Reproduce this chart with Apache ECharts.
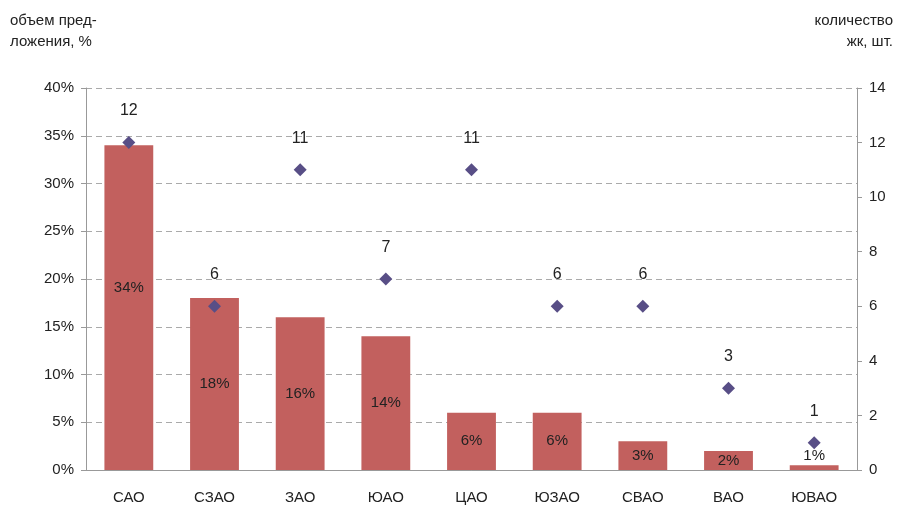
<!DOCTYPE html>
<html>
<head>
<meta charset="utf-8">
<script src="https://cdn.jsdelivr.net/npm/echarts@6/dist/echarts.min.js"></script>
<style>
html,body{margin:0;padding:0;background:#fff;}
#main{width:901px;height:513px;}
</style>
</head>
<body>
<div id="main"></div>
<script>
const categories = ["САО","СЗАО","ЗАО","ЮАО","ЦАО","ЮЗАО","СВАО","ВАО","ЮВАО"];
const shareValues = [34, 18, 16, 14, 6, 6, 3, 2, 0.5];
const shareLabels = ["34%","18%","16%","14%","6%","6%","3%","2%","1%"];
const countValues = [12, 6, 11, 7, 11, 6, 6, 3, 1];
const leftTicks = [0, 5, 10, 15, 20, 25, 30, 35, 40];
const rightTicks = [0, 2, 4, 6, 8, 10, 12, 14];

const font = "Liberation Sans, Arial, sans-serif";
const chart = echarts.init(document.getElementById('main'));
chart.setOption({
  animation: false,
  backgroundColor: '#fff',
  textStyle: {fontFamily: font},
  graphic: [
    {type:'text', left: 10, top: 10, style:{text:'объем пред-\nложения, %', font:'15px ' + font, fill:'#222', lineHeight: 21}},
    {type:'text', right: 8, top: 10, style:{text:'количество\nжк, шт.', font:'15px ' + font, fill:'#222', lineHeight: 21, textAlign:'right'}}
  ],
  grid: {left: 86, right: 44, top: 88, bottom: 43},
  xAxis: {
    type: 'category',
    data: categories,
    axisLine: {show: true, lineStyle: {color: '#999'}},
    axisTick: {show: false},
    axisLabel: {color: '#222', fontSize: 15, margin: 20, fontFamily: font}
  },
  yAxis: [
    {
      type: 'value', min: leftTicks[0], max: leftTicks[leftTicks.length-1], interval: 5,
      axisLine: {show: true, lineStyle: {color: '#999'}},
      axisTick: {show: true, length: 5, lineStyle: {color: '#999'}},
      axisLabel: {color: '#222', fontSize: 15, formatter: '{value}%', margin: 12, fontFamily: font},
      splitLine: {show: true, lineStyle: {color: '#aaa', type: [6, 4]}}
    },
    {
      type: 'value', min: rightTicks[0], max: rightTicks[rightTicks.length-1], interval: 2,
      position: 'right',
      axisLine: {show: true, lineStyle: {color: '#999'}},
      axisTick: {show: true, length: 5, lineStyle: {color: '#999'}},
      axisLabel: {color: '#222', fontSize: 15, margin: 12, fontFamily: font},
      splitLine: {show: false}
    }
  ],
  series: [
    {
      type: 'bar',
      data: shareValues.map((v, i) => ({
        value: v,
        label: i === shareValues.length - 1 ? {position: 'top', distance: 2}
             : (i === 0 ? {offset: [0, -20]} : {})
      })),
      barWidth: '57%',
      itemStyle: {color: '#c2605e'},
      label: {
        show: true, position: 'inside', color: '#222', fontSize: 15, fontFamily: font,
        formatter: p => shareLabels[p.dataIndex]
      },
      z: 2
    },
    {
      type: 'scatter',
      yAxisIndex: 1,
      data: countValues,
      symbol: 'diamond',
      symbolSize: [13, 13],
      itemStyle: {color: '#584e86', opacity: 1},
      label: {show: true, position: 'top', distance: 17, color: '#222', fontSize: 16, fontFamily: font},
      z: 3
    }
  ]
});
</script>
</body>
</html>
